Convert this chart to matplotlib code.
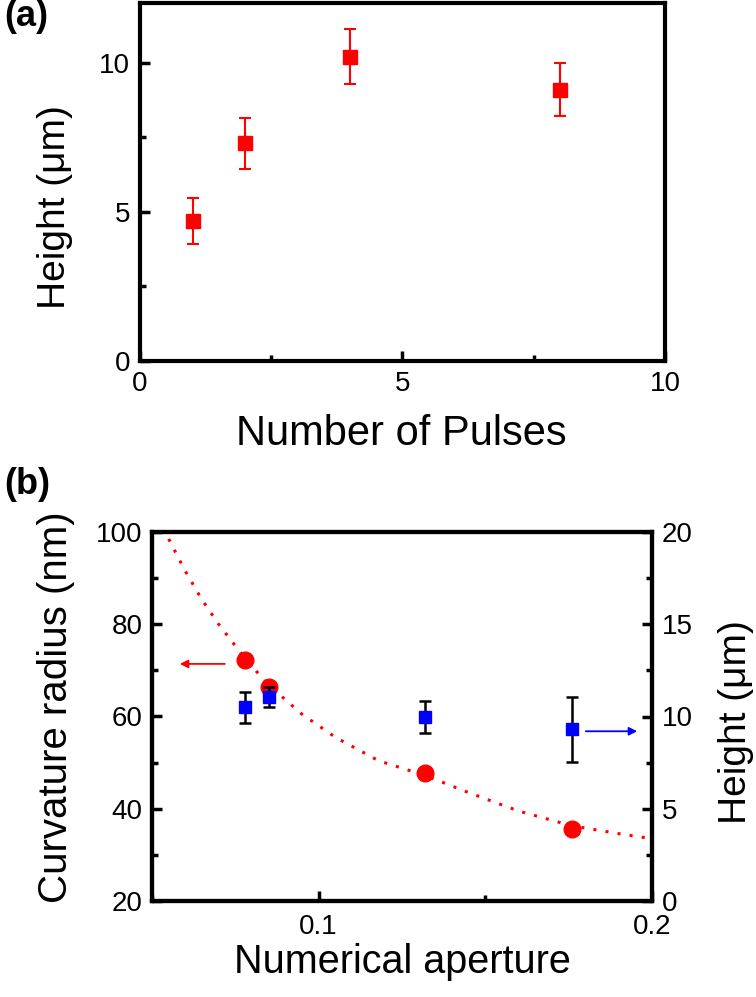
import matplotlib
matplotlib.use("Agg")
import matplotlib.pyplot as plt
from matplotlib.ticker import MultipleLocator

plt.rcParams['font.family'] = ['Liberation Sans', 'DejaVu Sans']

# ---- Panel (a) data ----
pulses = [1, 2, 4, 8]
height_a = [4.7, 7.3, 10.2, 9.1]
height_a_err = [0.77, 0.85, 0.93, 0.88]

# ---- Panel (b) data ----
na = [0.078, 0.085, 0.132, 0.176]
curv_radius = [72.2, 66.4, 47.7, 35.6]
height_b = [10.5, 11.05, 9.97, 9.3]
height_b_err = [0.85, 0.55, 0.87, 1.75]

# dotted fit curve
fit_na = [0.055, 0.060, 0.065, 0.070, 0.078, 0.085, 0.095, 0.105, 0.118,
          0.132, 0.145, 0.160, 0.176, 0.190, 0.200]
fit_r = [98.5, 91.5, 85.3, 80.0, 72.5, 66.8, 60.5, 55.5, 50.4,
         47.2, 43.5, 39.5, 36.3, 34.6, 33.5]

W, H = 756, 997
fig = plt.figure(figsize=(W / 100, H / 100), dpi=100)

TICK_FS = 20
PANEL_FS = 26
SPINE_LW = 3.0

def style_axes(ax):
    for s in ax.spines.values():
        s.set_linewidth(SPINE_LW)
    ax.tick_params(which='major', direction='in', length=7, width=2.5,
                   labelsize=TICK_FS, pad=7)
    ax.tick_params(which='minor', direction='in', length=4, width=2.5)

# ---- Panel (a) ----
axa = fig.add_axes([140 / W, 1 - 361 / H, (665 - 140) / W, (361 - 3) / H])
axa.errorbar(pulses, height_a, yerr=height_a_err, fmt='s', color='#ff0000',
             ecolor='#ff0000', markersize=10, capsize=4, elinewidth=1.5,
             capthick=1.5)
axa.set_xlim(0, 10)
axa.set_ylim(0, 12)
axa.xaxis.set_major_locator(MultipleLocator(5))
axa.xaxis.set_minor_locator(MultipleLocator(2.5))
axa.yaxis.set_major_locator(MultipleLocator(5))
axa.yaxis.set_minor_locator(MultipleLocator(2.5))
style_axes(axa)
axa.tick_params(which='both', top=False, right=False)

fig.text(401 / W, 1 - 434 / H, 'Number of Pulses', fontsize=30,
         ha='center', va='center')
fig.text(55 / W, 1 - 207 / H, 'Height (μm)', fontsize=28,
         rotation=90, ha='center', va='center')
fig.text(26 / W, 1 - 16 / H, '(a)', fontsize=PANEL_FS, fontweight='bold',
         ha='center', va='center')

# ---- Panel (b) ----
axb = fig.add_axes([152 / W, 1 - 901 / H, (652 - 152) / W, (901 - 532) / H])
axb.plot(na, curv_radius, 'o', color='#ff0000', markersize=12, zorder=2)
axb.plot(fit_na, fit_r, linestyle=(0, (1, 3)), color='#ff0000',
         linewidth=2.2, zorder=3)
axb.set_xlim(0.05, 0.2)
axb.set_ylim(20, 100)
axb.xaxis.set_major_locator(MultipleLocator(0.1))
axb.xaxis.set_minor_locator(MultipleLocator(0.05))
axb.yaxis.set_major_locator(MultipleLocator(20))
axb.yaxis.set_minor_locator(MultipleLocator(10))
axb.set_xticks([0.1, 0.2])
axb.set_xticklabels(['0.1', '0.2'])
style_axes(axb)
axb.tick_params(which='both', top=False, right=False)
axb.tick_params(axis='x', which='major', pad=9)
axb.annotate('', xy=(0.0575, 71.4), xytext=(0.0727, 71.4),
             arrowprops=dict(arrowstyle='-|>', color='#ff0000', lw=1.3,
                             mutation_scale=12))

axr = axb.twinx()
axr.errorbar(na, height_b, yerr=height_b_err, fmt='s', color='#0000ff',
             ecolor='black', markersize=8, capsize=4, elinewidth=1.8,
             capthick=1.8, zorder=4)
axr.set_ylim(0, 20)
axr.yaxis.set_major_locator(MultipleLocator(5))
axr.yaxis.set_minor_locator(MultipleLocator(2.5))
style_axes(axr)
axr.tick_params(which='both', top=False)
axr.annotate('', xy=(0.1964, 9.2), xytext=(0.1793, 9.2),
             arrowprops=dict(arrowstyle='-|>', color='#0000ff', lw=1.3,
                             mutation_scale=12))

fig.text(402 / W, 1 - 962 / H, 'Numerical aperture', fontsize=28.5,
         ha='center', va='center')
fig.text(56 / W, 1 - 707 / H, 'Curvature radius (nm)', fontsize=29,
         rotation=90, ha='center', va='center')
fig.text(736 / W, 1 - 722 / H, 'Height (μm)', fontsize=28,
         rotation=90, ha='center', va='center')
fig.text(27 / W, 1 - 484 / H, '(b)', fontsize=PANEL_FS, fontweight='bold',
         ha='center', va='center')

fig.savefig('out.png', dpi=100)
